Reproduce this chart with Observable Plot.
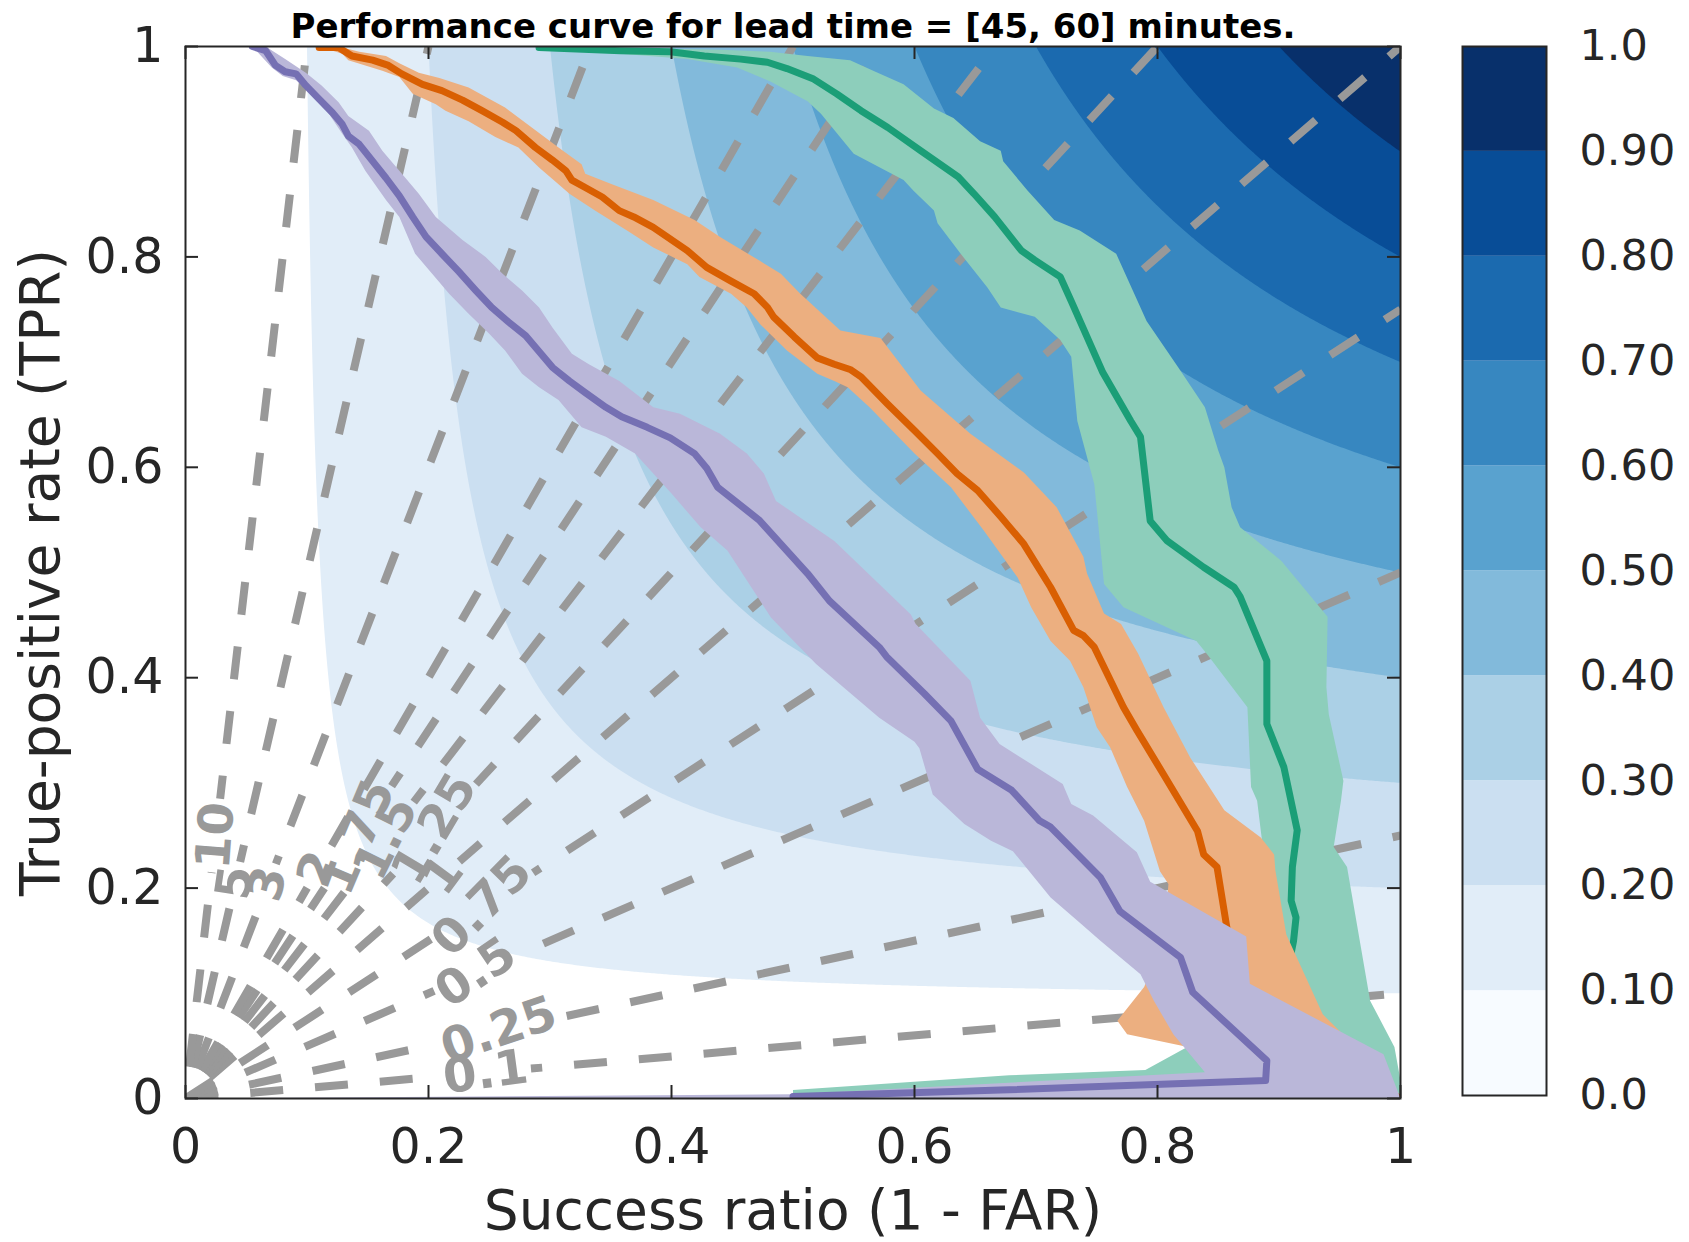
<!DOCTYPE html>
<html><head><meta charset="utf-8">
<script src="https://cdn.jsdelivr.net/npm/d3@7"></script>
<script src="https://cdn.jsdelivr.net/npm/@observablehq/plot@0.6"></script>
<style>
body{margin:0;background:#fff;}
#wrap{position:relative;width:1689px;height:1242px;font-family:"DejaVu Sans";background:#fff;}
#main{position:absolute;left:0;top:0;}
#cbar{position:absolute;left:1450px;top:0;}
</style></head><body><div id="wrap"><div id="main"></div><div id="cbar"></div></div>
<script>
// ---------------- data ----------------
const titleText = "Performance curve for lead time = [45, 60] minutes.";
const xLabelText = "Success ratio (1 - FAR)";
const yLabelText = "True-positive rate (TPR)";

const xTicks = [0, 0.2, 0.4, 0.6, 0.8, 1];
const xTickLabels = ["0", "0.2", "0.4", "0.6", "0.8", "1"];
const yTicks = [0, 0.2, 0.4, 0.6, 0.8, 1];
const yTickLabels = ["0", "0.2", "0.4", "0.6", "0.8", "1"];

const csiLevels = [0, 0.1, 0.2, 0.3, 0.4, 0.5, 0.6, 0.7, 0.8, 0.9, 1.0];
const csiTickLabels = ["0.0", "0.10", "0.20", "0.30", "0.40", "0.50", "0.60", "0.70", "0.80", "0.90", "1.0"];

const biasValues = [0.1, 0.25, 0.5, 0.75, 1, 1.25, 1.5, 1.75, 2, 3, 5, 10];
const biasLabels = ["0.1", "0.25", "0.5", "0.75", "1", "1.25", "1.5", "1.75", "2", "3", "5", "10"];
const biasLabelX = [0.247, 0.258, 0.239, 0.244, 0.212, 0.205, 0.165, 0.142, 0.109, 0.068, 0.041, 0.025];

// purple model
const purpleLine = [[0.055,1.0],[0.066,0.996],[0.074,0.982],[0.082,0.976],[0.091,0.974],[0.099,0.963],[0.110,0.950],[0.121,0.937],[0.129,0.926],[0.134,0.915],[0.143,0.907],[0.154,0.891],[0.165,0.875],[0.176,0.858],[0.187,0.838],[0.198,0.819],[0.211,0.803],[0.225,0.786],[0.239,0.768],[0.252,0.752],[0.266,0.738],[0.280,0.725],[0.291,0.710],[0.302,0.695],[0.316,0.682],[0.329,0.671],[0.346,0.657],[0.359,0.648],[0.380,0.638],[0.399,0.628],[0.419,0.613],[0.429,0.599],[0.438,0.581],[0.472,0.550],[0.512,0.499],[0.530,0.473],[0.571,0.429],[0.577,0.420],[0.608,0.385],[0.630,0.359],[0.652,0.313],[0.680,0.293],[0.703,0.264],[0.712,0.258],[0.753,0.210],[0.769,0.178],[0.819,0.134],[0.829,0.101],[0.890,0.036],[0.889,0.017],[0.671,0.008],[0.500,0.002]];
const purpleHi = [[0.066,1.0],[0.082,0.988],[0.099,0.975],[0.112,0.963],[0.126,0.947],[0.134,0.934],[0.151,0.920],[0.162,0.901],[0.176,0.882],[0.192,0.860],[0.206,0.838],[0.228,0.816],[0.247,0.800],[0.261,0.784],[0.277,0.768],[0.291,0.752],[0.302,0.733],[0.318,0.708],[0.332,0.698],[0.357,0.682],[0.385,0.657],[0.407,0.651],[0.440,0.632],[0.462,0.613],[0.476,0.594],[0.486,0.568],[0.534,0.530],[0.597,0.460],[0.601,0.451],[0.646,0.397],[0.654,0.362],[0.670,0.337],[0.722,0.299],[0.729,0.280],[0.747,0.269],[0.783,0.234],[0.794,0.206],[0.873,0.154],[0.876,0.109],[0.986,0.042],[1.0,0.0]];
const purpleLo = [[0.055,1.0],[0.071,0.980],[0.080,0.972],[0.091,0.968],[0.104,0.955],[0.118,0.936],[0.129,0.917],[0.137,0.904],[0.148,0.882],[0.165,0.854],[0.176,0.838],[0.189,0.803],[0.203,0.784],[0.217,0.765],[0.233,0.746],[0.250,0.727],[0.263,0.711],[0.277,0.689],[0.291,0.676],[0.307,0.664],[0.326,0.638],[0.346,0.629],[0.370,0.613],[0.400,0.575],[0.424,0.543],[0.446,0.521],[0.482,0.457],[0.519,0.413],[0.571,0.362],[0.600,0.339],[0.604,0.333],[0.615,0.289],[0.641,0.261],[0.663,0.245],[0.681,0.235],[0.712,0.191],[0.737,0.166],[0.753,0.150],[0.786,0.118],[0.797,0.093],[0.813,0.061],[0.839,0.025],[0.5,0.004],[0.0,0.0]];

// orange model
const orangeLine = [[0.110,0.999],[0.126,0.999],[0.137,0.991],[0.154,0.987],[0.167,0.982],[0.178,0.974],[0.195,0.964],[0.211,0.958],[0.228,0.949],[0.244,0.939],[0.261,0.928],[0.272,0.920],[0.288,0.904],[0.302,0.892],[0.313,0.882],[0.318,0.873],[0.329,0.866],[0.343,0.857],[0.357,0.844],[0.369,0.838],[0.385,0.828],[0.413,0.806],[0.429,0.790],[0.449,0.777],[0.468,0.765],[0.479,0.752],[0.484,0.743],[0.501,0.724],[0.520,0.704],[0.534,0.698],[0.547,0.693],[0.556,0.686],[0.578,0.660],[0.600,0.635],[0.619,0.613],[0.635,0.594],[0.652,0.578],[0.671,0.553],[0.690,0.527],[0.712,0.486],[0.731,0.445],[0.739,0.440],[0.748,0.429],[0.772,0.372],[0.783,0.350],[0.805,0.308],[0.833,0.254],[0.838,0.232],[0.849,0.220],[0.857,0.163],[0.865,0.120],[0.880,0.070],[1.0,0.0]];
const orangeHi = [[0.126,1.0],[0.143,0.995],[0.165,0.991],[0.176,0.984],[0.192,0.975],[0.209,0.970],[0.233,0.961],[0.263,0.942],[0.285,0.923],[0.307,0.904],[0.326,0.888],[0.329,0.879],[0.351,0.869],[0.385,0.854],[0.419,0.835],[0.440,0.819],[0.473,0.796],[0.490,0.784],[0.506,0.765],[0.539,0.730],[0.572,0.723],[0.605,0.673],[0.646,0.632],[0.690,0.595],[0.717,0.562],[0.739,0.515],[0.742,0.499],[0.756,0.461],[0.770,0.451],[0.784,0.423],[0.805,0.372],[0.827,0.324],[0.855,0.274],[0.885,0.248],[0.896,0.232],[0.897,0.217],[0.906,0.156],[0.936,0.080],[0.958,0.055],[1.0,0.0]];
const orangeLo = [[0.110,1.0],[0.129,0.993],[0.134,0.987],[0.148,0.982],[0.162,0.977],[0.176,0.971],[0.187,0.955],[0.206,0.945],[0.214,0.939],[0.233,0.929],[0.255,0.914],[0.274,0.904],[0.291,0.885],[0.307,0.869],[0.316,0.860],[0.337,0.844],[0.365,0.824],[0.385,0.809],[0.413,0.793],[0.423,0.781],[0.449,0.765],[0.462,0.752],[0.473,0.736],[0.495,0.711],[0.520,0.689],[0.534,0.682],[0.545,0.676],[0.563,0.657],[0.600,0.613],[0.630,0.581],[0.657,0.540],[0.685,0.495],[0.696,0.467],[0.712,0.435],[0.717,0.429],[0.728,0.416],[0.739,0.391],[0.750,0.353],[0.761,0.334],[0.775,0.296],[0.789,0.264],[0.802,0.216],[0.809,0.204],[0.805,0.150],[0.789,0.106],[0.767,0.074],[0.775,0.061],[0.825,0.049],[1.0,0.0]];

// green model
const greenLine = [[0.291,0.999],[0.358,0.996],[0.399,0.995],[0.427,0.991],[0.457,0.988],[0.479,0.985],[0.495,0.979],[0.517,0.969],[0.536,0.955],[0.556,0.939],[0.578,0.923],[0.605,0.901],[0.636,0.876],[0.649,0.860],[0.666,0.838],[0.688,0.806],[0.699,0.797],[0.720,0.781],[0.729,0.758],[0.755,0.690],[0.778,0.644],[0.786,0.629],[0.794,0.549],[0.808,0.530],[0.838,0.505],[0.863,0.486],[0.868,0.477],[0.890,0.416],[0.890,0.356],[0.904,0.315],[0.915,0.255],[0.911,0.220],[0.910,0.188],[0.914,0.172],[0.912,0.150],[0.900,0.080],[0.880,0.020]];
const greenHi = [[0.291,1.0],[0.440,0.997],[0.481,0.995],[0.512,0.991],[0.547,0.987],[0.566,0.977],[0.591,0.964],[0.616,0.941],[0.632,0.932],[0.654,0.910],[0.671,0.901],[0.673,0.891],[0.693,0.863],[0.715,0.835],[0.736,0.825],[0.766,0.803],[0.791,0.739],[0.817,0.695],[0.839,0.657],[0.850,0.616],[0.855,0.600],[0.861,0.562],[0.868,0.543],[0.902,0.511],[0.940,0.458],[0.939,0.391],[0.941,0.365],[0.953,0.302],[0.951,0.283],[0.945,0.239],[0.956,0.220],[0.975,0.093],[0.995,0.049],[1.0,0.017],[1.0,0.0]];
const greenLo = [[0.291,0.997],[0.358,0.993],[0.413,0.988],[0.454,0.980],[0.481,0.967],[0.512,0.948],[0.523,0.936],[0.550,0.898],[0.591,0.873],[0.599,0.863],[0.616,0.844],[0.619,0.832],[0.638,0.803],[0.660,0.771],[0.671,0.752],[0.699,0.743],[0.720,0.721],[0.729,0.705],[0.734,0.644],[0.748,0.584],[0.756,0.489],[0.772,0.467],[0.832,0.435],[0.841,0.422],[0.874,0.372],[0.877,0.296],[0.882,0.283],[0.887,0.236],[0.885,0.200],[0.880,0.150],[0.870,0.110],[0.850,0.070],[0.826,0.050],[0.790,0.027],[0.678,0.022],[0.500,0.008],[0.500,0.0]];

// ---------------- style / layout ----------------
const W = 1450, H = 1242;
const mL = 185, mR = 50, mT = 46, mB = 144;
const fw = W - mL - mR, fh = H - mT - mB;
const ink = "#262626";
const biasGray = "#999999";
const dash = "33,32";

const blueNodes = ["#f7fbff","#deebf7","#c6dbef","#9ecae1","#6baed6","#4292c6","#2171b5","#08519c","#08306b"];
const blueInterp = d3.piecewise(d3.interpolateRgb, blueNodes);
const bandColors = d3.range(10).map(i => d3.color(blueInterp(i / 9)).formatHex());

const models = [
  {line: greenLine, hi: greenHi, lo: greenLo, stroke: "#1b9e77", band: "#8dcebb"},
  {line: orangeLine, hi: orangeHi, lo: orangeLo, stroke: "#d95f02", band: "#ecaf80"},
  {line: purpleLine, hi: purpleHi, lo: purpleLo, stroke: "#7570b3", band: "#bab7d9"}
];

const csi = (sr, pod) => (sr > 0 && pod > 0) ? 1 / (1 / sr + 1 / pod - 1) : 0;

// bias lines, split where the inline labels sit
const biasRows = biasValues.map((b, i) => {
  const endX = b >= 1 ? 1 / b : 1, endY = b >= 1 ? 1 : b;
  const cx = biasLabelX[i];
  const L = Math.hypot(fw, fh * b);
  const tw = [...biasLabels[i]].reduce((s, c) => s + (c === "." ? 17 : 31), 0);
  const half = tw / 2 + 6;
  const xa = cx - half / L, xb = cx + half / L;
  const phase = b >= 1 ? 33 : 0;
  return {b, label: biasLabels[i], endX, endY, cx, cy: b * cx, xa, xb, L, phase,
          rot: -Math.atan(1.35 * b) * 180 / Math.PI};
});

const pts = arr => arr.map(([x, y]) => ({x, y}));
const poly = (hi, lo) => pts([...hi, ...lo.slice().reverse()]);

const marks = [];
// lowest CSI band (0-0.1) is left as the white background
marks.push(Plot.contour({fill: csi, x1: 0, y1: 0, x2: 1, y2: 1, thresholds: csiLevels.slice(1, 10), stroke: "none"}));

for (const r of biasRows) {
  const common = {x: "x", y: "y", stroke: biasGray, strokeWidth: 8, strokeDasharray: dash, strokeLinecap: "butt", clip: true};
  marks.push(Plot.line([{x: 0, y: 0}, {x: r.xa, y: r.b * r.xa}], {...common, strokeDashoffset: r.phase}));
  marks.push(Plot.line([{x: r.xb, y: r.b * r.xb}, {x: r.endX, y: r.endY}], {...common, strokeDashoffset: r.phase + r.xb * r.L}));
}
marks.push(Plot.text(biasRows, {x: "cx", y: "cy", text: "label", rotate: "rot", fill: biasGray, fontSize: 48, fontWeight: "bold", textAnchor: "middle", lineAnchor: "middle"}));

for (const m of models) {
  marks.push(Plot.line(poly(m.hi, m.lo), {x: "x", y: "y", fill: m.band, stroke: "none", clip: true}));
  marks.push(Plot.line(pts(m.line), {x: "x", y: "y", stroke: m.stroke, strokeWidth: 7, clip: true}));
}

// inward ticks on all four sides
marks.push(Plot.tickX(xTicks, {x: d => d, insetTop: fh - 13, stroke: ink, strokeWidth: 2}));
marks.push(Plot.tickX(xTicks, {x: d => d, insetBottom: fh - 13, stroke: ink, strokeWidth: 2}));
marks.push(Plot.tickY(yTicks, {y: d => d, insetRight: fw - 13, stroke: ink, strokeWidth: 2}));
marks.push(Plot.tickY(yTicks, {y: d => d, insetLeft: fw - 13, stroke: ink, strokeWidth: 2}));
marks.push(Plot.frame({stroke: ink, strokeWidth: 2}));

marks.push(Plot.axisX({ticks: xTicks, tickFormat: d => xTickLabels[xTicks.indexOf(d)], tickSize: 0, tickPadding: 30, fontSize: 49, label: null, fill: ink}));
marks.push(Plot.axisY({ticks: yTicks, tickFormat: d => yTickLabels[yTicks.indexOf(d)], tickSize: 0, tickPadding: 22, fontSize: 49, label: null, fill: ink}));

marks.push(Plot.text([xLabelText], {text: d => d, frameAnchor: "bottom", dy: 130, textAnchor: "middle", lineAnchor: "bottom", fontSize: 55, fill: ink}));
marks.push(Plot.text([yLabelText], {text: d => d, frameAnchor: "left", dx: -127, rotate: -90, textAnchor: "middle", lineAnchor: "bottom", fontSize: 55, fill: ink}));
marks.push(Plot.text([titleText], {text: d => d, frameAnchor: "top", dy: -9, textAnchor: "middle", lineAnchor: "bottom", fontSize: 34, fontWeight: "bold", fill: "#000"}));

const chart = Plot.plot({
  width: W, height: H,
  marginLeft: mL, marginRight: mR, marginTop: mT, marginBottom: mB,
  x: {domain: [0, 1]},
  y: {domain: [0, 1]},
  color: {type: "threshold", domain: csiLevels.slice(1, 10), range: bandColors},
  style: {fontFamily: "DejaVu Sans", background: "#fff", color: ink, overflow: "visible"},
  marks
});
document.getElementById("main").appendChild(chart);

// ---------------- colour bar ----------------
const cbW = 239;
const cbar = Plot.plot({
  width: cbW, height: H,
  marginTop: 46, marginBottom: 147, marginLeft: 12, marginRight: 143,
  x: {domain: [0, 1], axis: null},
  y: {domain: [0, 1]},
  color: {type: "identity"},
  style: {fontFamily: "DejaVu Sans", background: "#fff", color: ink, overflow: "visible"},
  marks: [
    Plot.rect(d3.range(10), {x1: () => 0, x2: () => 1, y1: i => csiLevels[i], y2: i => csiLevels[i + 1], fill: i => bandColors[i]}),
    Plot.frame({stroke: ink, strokeWidth: 2}),
    Plot.axisY({anchor: "right", ticks: csiLevels, tickFormat: d => csiTickLabels[csiLevels.indexOf(d)], tickSize: 0, tickPadding: 33, fontSize: 43, label: null, fill: ink})
  ]
});
document.getElementById("cbar").appendChild(cbar);
</script></body></html>
